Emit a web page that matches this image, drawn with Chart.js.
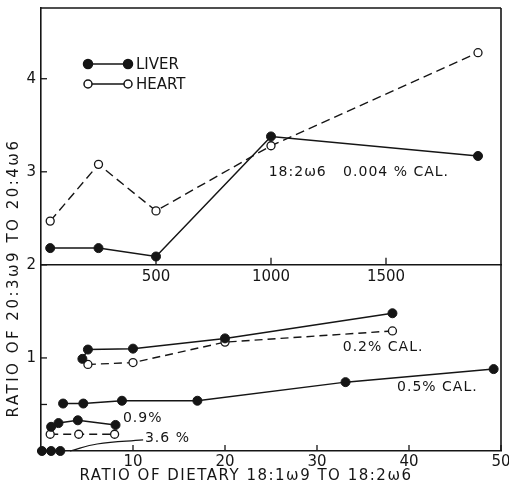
<!DOCTYPE html>
<html>
<head>
<meta charset="utf-8">
<script src="https://cdn.jsdelivr.net/npm/chart.js@4.4.1/dist/chart.umd.min.js"></script>
<style>
  html, body { margin: 0; padding: 0; background: #fff; }
  #wrap { width: 509px; height: 490px; position: relative; }
</style>
</head>
<body>
<div id="wrap"><canvas id="ratioChart"></canvas></div>
<script>
  // upper panel: x is ratio on 0-2000 scale, 18:2w6 at 0.004% cal
  const topX = [40, 250, 500, 1000, 1900];
  const liverTop = [2.18, 2.18, 2.09, 3.38, 3.17];
  const heartTop = [2.47, 3.08, 2.58, 3.28, 4.28];

  // lower panel: x is ratio on 0-50 scale
  const liver02X = [4.5, 5.1, 10, 20, 38.2];
  const liver02 = [0.99, 1.09, 1.10, 1.21, 1.48];
  const heart02X = [5.1, 10, 20, 38.2];
  const heart02 = [0.93, 0.95, 1.17, 1.29];
  const liver05X = [2.4, 4.6, 8.8, 17, 33.1, 49.2];
  const liver05 = [0.51, 0.51, 0.54, 0.54, 0.74, 0.88];
  const liver09X = [1.1, 1.9, 4.0, 8.1];
  const liver09 = [0.26, 0.30, 0.33, 0.28];
  const heart36X = [1.0, 4.1, 8.0];
  const heart36 = [0.18, 0.18, 0.18];
  const liver36X = [0.1, 1.1, 2.1];
  const liver36 = [0, 0, 0];
  const leaderX = [3.15, 6.1, 11.1];
  const leaderY = [0.0, 0.075, 0.12];

  const yTicks = [0.5, 1, 2, 3, 4];
  const bottomTicks = [10, 20, 30, 40, 50];
  const topTicks = [500, 1000, 1500];

  // curve labels, anchored in data units
  const notes = [
    { text: '18:2\u03c96   0.004 % CAL.', x: 990, y: 2.99, axis: 'x2' },
    { text: '0.2% CAL.', x: 32.8, y: 1.11, axis: 'x' },
    { text: '0.5% CAL.', x: 38.7, y: 0.68, axis: 'x' },
    { text: '0.9%', x: 8.9, y: 0.355, axis: 'x' },
    { text: '3.6 %', x: 11.3, y: 0.14, axis: 'x' }
  ];

  const ink = '#151515';
  const font = '"DejaVu Sans", sans-serif';

  function pts(xs, ys) {
    return xs.map((v, i) => ({ x: v, y: ys[i] }));
  }

  function liver(xs, ys, axis) {
    return {
      data: pts(xs, ys), xAxisID: axis, showLine: true,
      borderColor: ink, borderWidth: 1.5, backgroundColor: ink,
      pointRadius: 4.5, pointBorderWidth: 1, pointBackgroundColor: ink, pointBorderColor: ink,
      clip: false
    };
  }

  function heart(xs, ys, axis, dash) {
    return {
      data: pts(xs, ys), xAxisID: axis, showLine: true,
      borderColor: ink, borderWidth: 1.4, borderDash: dash,
      pointRadius: 4, pointBorderWidth: 1.3, pointBackgroundColor: '#fff', pointBorderColor: ink,
      clip: false
    };
  }

  function noPad(s) {
    s.paddingLeft = 0; s.paddingRight = 0; s.paddingTop = 0; s.paddingBottom = 0;
  }

  const decor = {
    id: 'decor',
    afterDraw(chart) {
      const { ctx, chartArea: a, scales } = chart;
      const y = scales.y, x = scales.x, x2 = scales.x2;
      const line = (x1, y1, xe, ye) => { ctx.beginPath(); ctx.moveTo(x1, y1); ctx.lineTo(xe, ye); ctx.stroke(); };
      ctx.save();
      ctx.strokeStyle = ink;
      ctx.lineWidth = 1.6;
      line(a.left, a.top, a.right, a.top);
      line(a.right, a.top, a.right, a.bottom);
      ctx.lineWidth = 1.3;
      yTicks.forEach(v => { const p = y.getPixelForValue(v); line(a.left, p, a.left + 6, p); });
      bottomTicks.forEach(v => { const p = x.getPixelForValue(v); line(p, a.bottom, p, a.bottom - 6); });
      const base = y.getPixelForValue(2);
      topTicks.forEach(v => { const p = x2.getPixelForValue(v); line(p, base, p, base - 7); });

      // legend
      const lx = a.left + 47, ly = a.top + 56;
      ctx.lineWidth = 1.5;
      [['LIVER', true], ['HEART', false]].forEach(([name, filled], i) => {
        const yy = ly + i * 20;
        line(lx, yy, lx + 40, yy);
        [lx, lx + 40].forEach(cx => {
          ctx.beginPath();
          ctx.arc(cx, yy, filled ? 4.5 : 4, 0, Math.PI * 2);
          ctx.fillStyle = filled ? ink : '#fff';
          ctx.fill();
          ctx.stroke();
        });
        ctx.fillStyle = ink;
        ctx.font = '15px ' + font;
        ctx.textBaseline = 'middle';
        ctx.textAlign = 'left';
        ctx.fillText(name, lx + 48, yy + 1);
      });

      // curve labels
      ctx.font = '14px ' + font;
      ctx.letterSpacing = '1px';
      ctx.fillStyle = ink;
      notes.forEach(n => {
        ctx.fillText(n.text, scales[n.axis].getPixelForValue(n.x), y.getPixelForValue(n.y));
      });

      // axis titles
      ctx.font = '15px ' + font;
      ctx.letterSpacing = '1.5px';
      ctx.textAlign = 'center';
      ctx.fillText('RATIO OF DIETARY 18:1\u03c99 TO 18:2\u03c96', 246, 476);
      ctx.translate(14, 278);
      ctx.rotate(-Math.PI / 2);
      ctx.letterSpacing = '2.5px';
      ctx.fillText('RATIO OF 20:3\u03c99 TO 20:4\u03c96', 0, 0);
      ctx.restore();
    }
  };

  const tickFont = { family: font, size: 15 };

  const ctx1 = document.getElementById('ratioChart').getContext('2d');
  const ratioChart = new Chart(ctx1, {
    type: 'scatter',
    data: {
      datasets: [
        liver(topX, liverTop, 'x2'),
        heart(topX, heartTop, 'x2', [9, 5]),
        liver(liver02X, liver02, 'x'),
        heart(heart02X, heart02, 'x', [8, 5]),
        liver(liver05X, liver05, 'x'),
        liver(liver09X, liver09, 'x'),
        heart(heart36X, heart36, 'x', [8, 5]),
        liver(liver36X, liver36, 'x'),
        {
          data: pts(leaderX, leaderY), xAxisID: 'x', showLine: true, tension: 0.4,
          borderColor: ink, borderWidth: 1.2, pointRadius: 0, clip: false
        }
      ]
    },
    options: {
      responsive: true,
      maintainAspectRatio: false,
      animation: false,
      layout: { padding: { top: 8, right: 8, left: 0, bottom: 0 } },
      plugins: { legend: { display: false }, tooltip: { enabled: false } },
      scales: {
        x: {
          type: 'linear', position: 'bottom', min: 0, max: 50,
          afterFit: s => { s.height = 39; noPad(s); },
          afterBuildTicks: s => { s.ticks = bottomTicks.map(v => ({ value: v })); },
          grid: { display: false, drawTicks: false },
          border: { display: true, color: ink, width: 1.6 },
          ticks: { color: ink, padding: 2, maxRotation: 0, font: tickFont, callback: v => String(v) }
        },
        x2: {
          type: 'linear', axis: 'x', position: { y: 2 }, min: 0, max: 2000,
          afterFit: s => { noPad(s); },
          afterBuildTicks: s => { s.ticks = topTicks.map(v => ({ value: v })); },
          grid: { display: false, drawTicks: false },
          border: { display: true, color: ink, width: 1.6 },
          ticks: { color: ink, padding: 3, maxRotation: 0, font: tickFont, callback: v => String(v) }
        },
        y: {
          type: 'linear', position: 'left', min: 0, max: 4.76,
          afterFit: s => { s.width = 41; noPad(s); },
          afterBuildTicks: s => { s.ticks = yTicks.map(v => ({ value: v })); },
          grid: { display: false, drawTicks: false },
          border: { display: true, color: ink, width: 1.6 },
          ticks: {
            color: ink, padding: 5, font: tickFont,
            callback: v => (v === 0.5 ? '' : String(v))
          }
        }
      }
    },
    plugins: [decor]
  });
</script>
</body>
</html>
